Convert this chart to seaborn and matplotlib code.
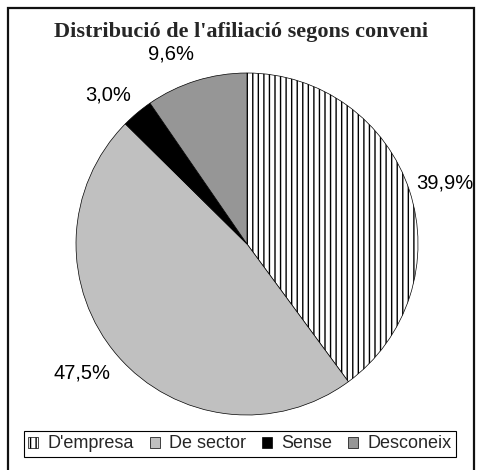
import matplotlib
matplotlib.use("Agg")
import matplotlib.pyplot as plt
from matplotlib.patches import Rectangle
import seaborn as sns
import numpy as np

sns.set_theme(style="white")
plt.rcParams['font.family'] = ['Liberation Sans', 'DejaVu Sans']

categories = ["D'empresa", "De sector", "Sense", "Desconeix"]
values = [39.9, 47.5, 3.0, 9.6]
pct_labels = ["39,9%", "47,5%", "3,0%", "9,6%"]
title = "Distribució de l'afiliació segons conveni"

colors = ["white", "#c0c0c0", "black", "#969696"]
hatches = ["|||", None, None, None]
label_pos = [(1.158, 0.357), (-0.965, -0.754), (-0.813, 0.871), (-0.444, 1.111)]

W, H = 480, 470
fig = plt.figure(figsize=(W / 100, H / 100), dpi=100)
fig.patch.set_facecolor("white")

# outer frame
fig.add_artist(Rectangle((8 / W, -0.05), (474 - 8) / W, (H - 8) / H + 0.05,
                         transform=fig.transFigure, fill=False,
                         edgecolor="#111111", linewidth=1.6))

cx, cy, r = 247, 244, 171
ax = fig.add_axes([(cx - r) / W, (H - cy - r) / H, 2 * r / W, 2 * r / H])
wedges, _ = ax.pie(values, colors=colors, startangle=90, counterclock=False,
                   radius=1.0, wedgeprops=dict(edgecolor="black", linewidth=0.5))
for w, h in zip(wedges, hatches):
    if h:
        w.set_hatch(h)
ax.set_xlim(-1, 1)
ax.set_ylim(-1, 1)
ax.set_aspect("auto")
ax.axis("off")

for txt, (x, y) in zip(pct_labels, label_pos):
    ax.text(x, y, txt, ha="center", va="center", fontsize=14.5, color="black")

fig.text(241 / W, 1 - 32 / H, title, ha="center", va="center",
         fontsize=16, fontweight="bold", family=["Liberation Serif"])

leg = fig.legend(wedges, categories, loc="center", bbox_to_anchor=(240 / W, 1 - 444 / H),
                 ncol=4, fontsize=13, frameon=True, fancybox=False, edgecolor="black",
                 framealpha=1, handlelength=0.55, handleheight=0.55, handletextpad=0.5,
                 columnspacing=0.9, borderpad=0.25, borderaxespad=0)
leg.get_frame().set_linewidth(0.8)

fig.savefig("out.png", dpi=100)
